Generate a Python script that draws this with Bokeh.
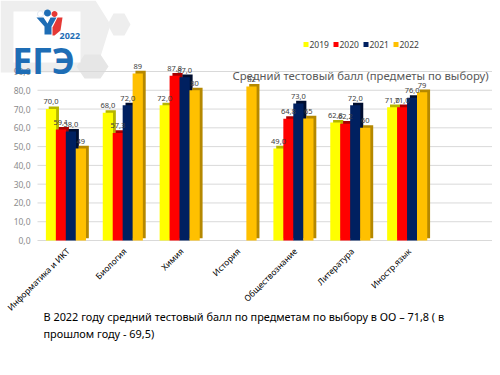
import math
from bokeh.plotting import figure
from bokeh.models import (ColumnDataSource, LabelSet, Label, BoxAnnotation, PolyAnnotation)
from bokeh.transform import dodge
from bokeh.core.properties import value
from bokeh.embed import file_html
from bokeh.resources import INLINE

categories = ["Информатика и ИКТ", "Биология", "Химия", "История",
              "Обществознание", "Литература", "Иностр.язык"]
years = ["2019", "2020", "2021", "2022"]
v2019 = [70.0, 68.0, 72.0, float("nan"), 49.0, 62.8, 71.0]
v2020 = [59.1, 57.3, 87.8, float("nan"), 64.8, 62.2, 71.0]
v2021 = [58.0, 72.0, 87.0, float("nan"), 73.0, 72.0, 76.0]
v2022 = [49, 89, 80, 82, 65, 60, 79]
series = [v2019, v2020, v2021, v2022]
colors = ["#FFFF00", "#FF0000", "#002060", "#FFC000"]
shades = ["#B5B500", "#A80000", "#000E30", "#B58800"]
y_ticks = [0, 10, 20, 30, 40, 50, 60, 70, 80, 90]
title_text = "Средний тестовый балл (предметы по выбору)"
note_line1 = "В 2022  году средний тестовый балл по предметам по выбору в ОО – 71,8 ( в"
note_line2 = "прошлом году - 69,5)"

FONT = "Noto Sans"
W, H = 492, 367
# plot area in page pixels
PL, PR, PT, PB = 37, 492, 71, 240
X0, X1, Y0, Y1 = -0.5, 7.5, 0, 90
kx = (X1 - X0) / (PR - PL)
ky = (Y1 - Y0) / (PB - PT)
x_range = (X0 - PL * kx, X1 + (W - PR) * kx)
y_range = (Y0 - (H - PB) * ky, Y1 + PT * ky)


def sx(X):
    return X


def sy(Y):
    return H - Y


def poly(pts, color, level="underlay", line_color=None):
    return PolyAnnotation(xs=[sx(a) for a, b in pts], ys=[sy(b) for a, b in pts],
                          xs_units="screen", ys_units="screen",
                          fill_color=color, fill_alpha=1, line_color=line_color,
                          line_width=0.8, level=level)


def disc(cx, cy, r, color, line_color=None):
    pts = [(cx + r * math.cos(t * math.pi / 8), cy + r * math.sin(t * math.pi / 8))
           for t in range(16)]
    return poly(pts, color, level="annotation", line_color=line_color)


p = figure(width=W, height=H, output_backend="svg", toolbar_location=None,
           x_range=x_range, y_range=y_range,
           min_border=0, min_border_left=0, min_border_right=0,
           min_border_top=0, min_border_bottom=0)
p.outline_line_color = None
p.grid.visible = False
p.axis.visible = False
p.background_fill_color = "#FFFFFF"

# background decoration (hexagons + logo panel)
p.add_layout(poly([(0, 0), (95, 0), (110, 24), (95, 72), (0, 72)], "#EEEEEE"))
p.add_layout(poly([(113, 13), (124, 13), (130, 24), (124, 35), (113, 35), (107, 24)], "#EEEEEE"))
p.add_layout(poly([(84, 54), (100, 54), (108, 66), (100, 78), (84, 78), (76, 66)], "#E6E6E6"))
p.add_layout(BoxAnnotation(left=sx(13), right=sx(80), top=sy(11), bottom=sy(62),
                           left_units="screen", right_units="screen",
                           top_units="screen", bottom_units="screen",
                           fill_color="#FFFFFF", fill_alpha=1, line_color=None,
                           level="underlay"))

# gridlines and y tick labels
gsrc = ColumnDataSource(dict(y=y_ticks, x0=[X0] * len(y_ticks), x1=[X1] * len(y_ticks),
                             lab=[("%.1f" % t).replace(".", ",") for t in y_ticks]))
p.segment(x0="x0", x1="x1", y0="y", y1="y", source=gsrc, line_color="#D9D9D9", line_width=1)
p.text(x="x0", y="y", text="lab", source=gsrc, text_font=value(FONT),
       text_font_size="8.5px", text_color="#8C8C8C", text_align="right",
       text_baseline="middle", x_offset=-7)

xs = list(range(len(categories)))
offsets = [-0.2625, -0.0875, 0.0875, 0.2625]
bw = 0.18
for i, (vals, c, s, yr) in enumerate(zip(series, colors, shades, years)):
    if yr == "2022":
        labels = ["" if math.isnan(float(v)) else str(int(v)) for v in vals]
    else:
        labels = ["" if math.isnan(v) else ("%.1f" % v).replace(".", ",") for v in vals]
    src = ColumnDataSource(dict(x=xs, top=[float(v) for v in vals],
                                top_s=[float(v) + 1.4 for v in vals],
                                lab=labels))
    p.vbar(x=dodge("x", offsets[i] + 0.05, range=p.x_range), top="top_s", bottom=1.2,
           width=bw, source=src, fill_color=s, line_color=None)
    p.vbar(x=dodge("x", offsets[i], range=p.x_range), top="top", width=bw,
           source=src, fill_color=c, line_color=None)
    p.add_layout(LabelSet(x=dodge("x", offsets[i], range=p.x_range), y="top_s",
                          text="lab", source=src, text_font=value(FONT),
                          text_font_size="7.5px", text_color="#404040",
                          text_align="center", y_offset=2))

# category labels, rotated
csrc = ColumnDataSource(dict(x=xs, y=[0] * len(xs), lab=categories))
p.text(x="x", y="y", text="lab", source=csrc, angle=math.pi / 4,
       text_font=value(FONT), text_font_size="8.5px", text_color="#000000",
       text_align="right", text_baseline="middle", x_offset=2, y_offset=9)

# legend drawn as coloured squares + labels
leg_x = [303, 333, 363, 393]
for yr, c, X in zip(years, colors, leg_x):
    p.add_layout(BoxAnnotation(left=sx(X), right=sx(X + 5), top=sy(41.5), bottom=sy(46.5),
                               left_units="screen", right_units="screen",
                               top_units="screen", bottom_units="screen",
                               fill_color=c, fill_alpha=1, line_color=None))
    p.add_layout(Label(x=sx(X + 6), y=sy(44), x_units="screen", y_units="screen",
                       text=yr, text_font=FONT, text_font_size="8.5px",
                       text_color="#404040", text_baseline="middle"))

p.add_layout(Label(x=sx(232), y=sy(75), x_units="screen", y_units="screen", text=title_text,
                   text_font=FONT, text_font_size="11.3px",
                   text_color="#595959", text_baseline="middle"))
p.add_layout(Label(x=sx(43), y=sy(316), x_units="screen", y_units="screen", text=note_line1,
                   text_font=FONT, text_font_size="10.9px",
                   text_color="#000000", text_baseline="middle"))
p.add_layout(Label(x=sx(43), y=sy(333), x_units="screen", y_units="screen", text=note_line2,
                   text_font=FONT, text_font_size="10.9px",
                   text_color="#000000", text_baseline="middle"))

# logo: figures
p.add_layout(poly([(36, 17), (43, 17), (47, 23), (50, 17), (56, 17), (51, 26),
                   (51, 34), (44, 34), (44, 26)], "#1E6DB5", level="annotation"))
p.add_layout(poly([(57, 17), (62, 17), (60, 30), (54, 35), (52, 35), (52, 27)],
                  "#E53935", level="annotation"))
p.add_layout(disc(40, 13.5, 3, "#FFFFFF", line_color="#8AA9CC"))
p.add_layout(disc(47, 12.5, 3.5, "#1E6DB5"))
p.add_layout(disc(54, 13.5, 3, "#E53935"))
# logo: text
p.add_layout(Label(x=sx(12), y=sy(60), x_units="screen", y_units="screen", text="ЕГЭ",
                   text_font=FONT, text_font_size="35px", text_font_style="bold",
                   text_color="#1E6DB5", text_baseline="alphabetic"))
p.add_layout(Label(x=sx(59), y=sy(35), x_units="screen", y_units="screen", text="2022",
                   text_font=FONT, text_font_size="9px", text_font_style="bold",
                   text_color="#1E6DB5", text_baseline="alphabetic"))

with open("out.html", "w") as f:
    f.write(file_html(p, INLINE))
